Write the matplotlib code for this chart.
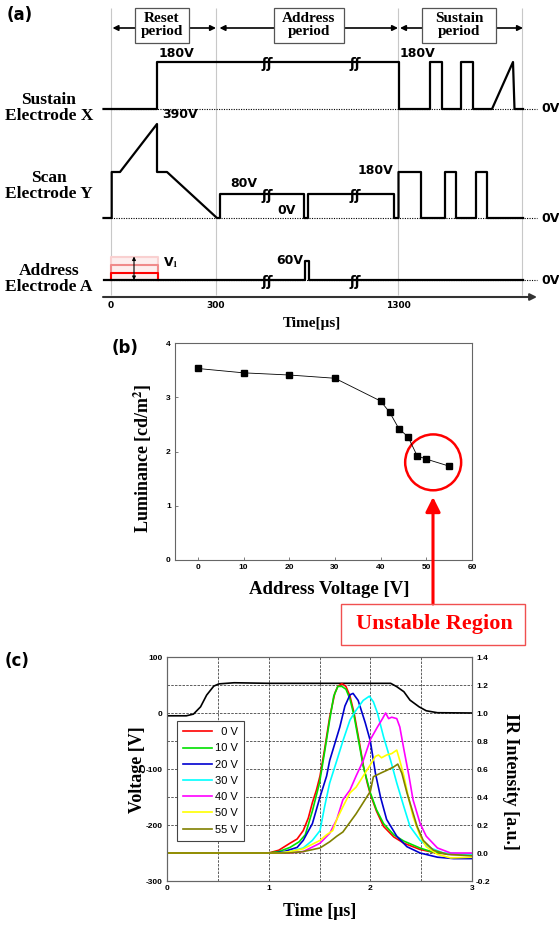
import matplotlib
matplotlib.use('Agg')
import matplotlib.pyplot as plt
from matplotlib.patches import Rectangle, Ellipse
from matplotlib.ticker import MultipleLocator, FormatStrFormatter

plt.rcParams['axes.unicode_minus'] = False
plt.rcParams['mathtext.fontset'] = 'stix'

SERIF = 'Liberation Serif'
SANS = 'DejaVu Sans'
TICKF = ['Liberation Sans', 'DejaVu Sans']

# ---------- (a) drive waveforms (schematic, broken time axis) ----------
period_lines = [0, 105, 287, 411]
time_ticks = [0, 105, 287]
time_labels = ['0', '300', '1300']
break_pos = [156, 244]

x_elec_t = [-7.5, 46, 46, 288, 288, 319, 319, 331, 331, 350, 350, 362, 362, 381, 402, 403.5, 412]
x_elec_v = [0, 0, 47, 47, 0, 0, 47, 47, 0, 0, 47, 47, 0, 0, 47, 0, 0]
y_elec_t = [-7.5, 0.7, 0.7, 9, 46, 46, 56, 106, 109, 109, 193, 193, 197, 197, 283, 283,
            287.5, 287.5, 310, 310, 334, 334, 345, 345, 365, 365, 376, 376, 412]
y_elec_v = [0, 0, 46, 46, 94, 46, 46, 0, 0, 24, 24, 0, 0, 24, 24, 0,
            0, 46, 46, 0, 0, 46, 46, 0, 0, 46, 46, 0, 0]
a_elec_t = [-7.5, 194, 194, 197.5, 197.5, 412]
a_elec_v = [0, 0, 19, 19, 0, 0]
v1_levels = [22.7, 15, 7.3]
v1_colors = ['#f9d0d0', '#f08a8a', '#ff0000']
v1_span = [0, 47]
bases = {'X': 221, 'Y': 112, 'A': 50}

# ---------- (b) luminance vs address voltage ----------
addr_volt = [0, 10, 20, 30, 40, 42, 44, 46, 48, 50, 55]
luminance = [3.53, 3.45, 3.41, 3.35, 2.93, 2.72, 2.42, 2.27, 1.92, 1.86, 1.73]

# ---------- (c) applied voltage and IR waveforms ----------
volt_t = [0, 0.19, 0.26, 0.33, 0.39, 0.46, 0.51, 0.66, 1.0, 1.5, 2.0, 2.2, 2.26, 2.33, 2.39, 2.48, 2.55, 2.66, 3.0]
volt_v = [-5, -5, -2, 11, 32, 48, 52, 54, 53, 53, 53, 53, 47, 38, 23, 11, 4, 0.5, 0]

ir_labels = ['0 V', '10 V', '20 V', '30 V', '40 V', '50 V', '55 V']
ir_colors = ['#ff0000', '#00e000', '#0000d0', '#00ffff', '#ff00ff', '#ffff00', '#808000']
ir_t = [
    [0, 1.0, 1.1, 1.21, 1.28, 1.34, 1.39, 1.43, 1.47, 1.505, 1.55, 1.6, 1.65, 1.68, 1.72, 1.76,
     1.8, 1.84, 1.88, 1.93, 1.97, 2.0, 2.06, 2.13, 2.23, 2.33, 2.49, 2.65, 2.8, 3.0],
    [0, 1.0, 1.1, 1.21, 1.3, 1.36, 1.43, 1.5, 1.55, 1.6, 1.64, 1.68, 1.72, 1.76, 1.8, 1.84,
     1.88, 1.93, 2.0, 2.06, 2.13, 2.23, 2.33, 2.49, 2.6, 2.75, 3.0],
    [0, 1.05, 1.15, 1.28, 1.34, 1.43, 1.505, 1.57, 1.6, 1.65, 1.7, 1.75, 1.8, 1.83, 1.88, 1.95,
     2.0, 2.05, 2.1, 2.16, 2.26, 2.36, 2.49, 2.66, 2.82, 3.0],
    [0, 1.1, 1.21, 1.34, 1.43, 1.505, 1.55, 1.6, 1.67, 1.73, 1.8, 1.86, 1.93, 1.99, 2.03, 2.07,
     2.13, 2.2, 2.26, 2.33, 2.39, 2.49, 2.59, 2.72, 3.0],
    [0, 1.2, 1.34, 1.505, 1.6, 1.67, 1.73, 1.8, 1.86, 1.93, 2.0, 2.07, 2.12, 2.15, 2.18, 2.21,
     2.26, 2.29, 2.33, 2.38, 2.42, 2.49, 2.55, 2.66, 2.79, 3.0],
    [0, 1.1, 1.21, 1.34, 1.505, 1.57, 1.63, 1.67, 1.73, 1.8, 1.86, 1.93, 2.0, 2.05, 2.08, 2.11,
     2.16, 2.21, 2.26, 2.29, 2.33, 2.38, 2.42, 2.49, 2.55, 2.66, 2.79, 3.0],
    [0, 1.2, 1.34, 1.505, 1.6, 1.67, 1.73, 1.8, 1.86, 1.93, 2.0, 2.03, 2.1, 2.16, 2.23, 2.27,
     2.31, 2.36, 2.41, 2.46, 2.52, 2.62, 2.76, 3.0],
]
ir_v = [
    [0, 0, 0.02, 0.07, 0.10, 0.16, 0.25, 0.36, 0.45, 0.55, 0.74, 0.97, 1.14, 1.19, 1.21, 1.19,
     1.12, 1.0, 0.84, 0.63, 0.50, 0.42, 0.30, 0.19, 0.115, 0.07, 0.025, 0.0, -0.01, -0.01],
    [0, 0, 0.01, 0.04, 0.08, 0.13, 0.30, 0.50, 0.72, 0.95, 1.12, 1.19, 1.19, 1.17, 1.10, 0.98,
     0.82, 0.62, 0.43, 0.31, 0.21, 0.13, 0.085, 0.035, 0.01, -0.005, -0.01],
    [0, 0, 0.01, 0.04, 0.09, 0.21, 0.40, 0.55, 0.66, 0.78, 0.90, 1.05, 1.13, 1.14, 1.09, 0.93,
     0.80, 0.57, 0.40, 0.24, 0.12, 0.045, 0.0, -0.03, -0.04, -0.04],
    [0, 0, 0.01, 0.036, 0.09, 0.16, 0.33, 0.50, 0.66, 0.80, 0.95, 1.02, 1.09, 1.12, 1.08, 1.0,
     0.83, 0.66, 0.50, 0.33, 0.19, 0.09, 0.036, 0.0, -0.01],
    [0, 0, 0.01, 0.07, 0.14, 0.24, 0.38, 0.45, 0.55, 0.66, 0.81, 0.90, 0.96, 1.00, 0.96, 0.97,
     0.96, 0.90, 0.74, 0.55, 0.38, 0.21, 0.12, 0.036, 0.0, 0.0],
    [0, 0, 0.01, 0.03, 0.09, 0.13, 0.16, 0.24, 0.33, 0.43, 0.47, 0.55, 0.63, 0.69, 0.70, 0.68,
     0.70, 0.71, 0.735, 0.66, 0.55, 0.38, 0.26, 0.12, 0.045, -0.01, -0.035, -0.03],
    [0, 0, 0.01, 0.036, 0.08, 0.12, 0.15, 0.22, 0.28, 0.36, 0.44, 0.545, 0.57, 0.59, 0.615, 0.635,
     0.57, 0.43, 0.31, 0.19, 0.09, 0.02, -0.01, -0.02],
]

W, H = 559, 925
fig = plt.figure(figsize=(W / 100, H / 100), dpi=100)

# ====================== panel (a) ======================
ax_a = fig.add_axes([0, 1 - 330 / H, 1, 330 / H])
ax_a.set_xlim(-111, W - 111)
ax_a.set_ylim(0, 330)
ax_a.axis('off')

ax_a.vlines(period_lines, 35, 322, color='#c8c8c8', lw=0.8, zorder=0)

for a, b in [(1.5, 105), (108.5, 287), (289, 412)]:
    ax_a.annotate('', xy=(b, 302), xytext=(a, 302),
                  arrowprops=dict(arrowstyle='<|-|>', color='black', lw=1.2,
                                  mutation_scale=8, shrinkA=0, shrinkB=0))
for x0, w, txt in [(24, 54, 'Reset\nperiod'), (163, 70, 'Address\nperiod'), (311, 74, 'Sustain\nperiod')]:
    ax_a.add_patch(Rectangle((x0, 287), w, 35, fc='white', ec='#555555', lw=0.9, zorder=3))
    ax_a.text(x0 + w / 2, 304.5, txt, ha='center', va='center', family=SERIF,
              fontweight='bold', fontsize=11, linespacing=1.0, zorder=4)

# dotted zero lines
for key in bases:
    ax_a.plot([0, 426], [bases[key], bases[key]], color='black', ls=(0, (1, 1.2)), lw=0.8)
    ax_a.text(430, bases[key], '0V', ha='left', va='center', family=SANS,
              fontweight='bold', fontsize=9)

# V1 levels on the address electrode
ax_a.add_patch(Rectangle((v1_span[0], bases['A']), v1_span[1] - v1_span[0], v1_levels[0],
                         fc='#fdeeee', ec='none', zorder=1))
for lev, col in zip(v1_levels, v1_colors):
    ax_a.plot([v1_span[0], v1_span[0], v1_span[1], v1_span[1]],
              [bases['A'], bases['A'] + lev, bases['A'] + lev, bases['A']],
              color=col, lw=1.5, zorder=2)

ax_a.plot(x_elec_t, [bases['X'] + v for v in x_elec_v], color='black', lw=1.6, zorder=5)
ax_a.plot(y_elec_t, [bases['Y'] + v for v in y_elec_v], color='black', lw=1.6, zorder=5)
ax_a.plot(a_elec_t, [bases['A'] + v for v in a_elec_v], color='black', lw=1.6, zorder=5)

for bp in break_pos:
    for yb in [bases['X'] + 47, bases['Y'] + 24, bases['A']]:
        ax_a.text(bp, yb - 2, '\u0283\u0283', ha='center', va='center', family=SANS,
                  fontweight='bold', fontsize=10, zorder=6)

ax_a.annotate('', xy=(23, bases['A'] + 23.5), xytext=(23, bases['A']),
              arrowprops=dict(arrowstyle='<|-|>', color='black', lw=0.8,
                              mutation_scale=5, shrinkA=0, shrinkB=0), zorder=6)

vlab = dict(family=SANS, fontweight='bold', fontsize=9)
ax_a.text(48, 276.5, '180V', ha='left', va='center', **vlab)
ax_a.text(289, 276.5, '180V', ha='left', va='center', **vlab)
ax_a.text(51, 215, '390V', ha='left', va='center', **vlab)
ax_a.text(119, 146.5, '80V', ha='left', va='center', **vlab)
ax_a.text(166, 120, '0V', ha='left', va='center', **vlab)
ax_a.text(282, 160, '180V', ha='right', va='center', **vlab)
ax_a.text(192, 70, '60V', ha='right', va='center', **vlab)
ax_a.text(52, 67, 'V$_\\mathbf{1}$', ha='left', va='center', **vlab)

elab = dict(ha='center', va='center', family=SERIF, fontweight='bold',
            fontsize=12.5, linespacing=0.95)
ax_a.text(-62, 222, 'Sustain\nElectrode X', **elab)
ax_a.text(-62, 144, 'Scan\nElectrode Y', **elab)
ax_a.text(-62, 51, 'Address\nElectrode A', **elab)

ax_a.annotate('', xy=(426, 33), xytext=(-8, 33),
              arrowprops=dict(arrowstyle='-|>', color='#333333', lw=1.5,
                              mutation_scale=10, shrinkA=0, shrinkB=0))
for tp, tl in zip(time_ticks, time_labels):
    ax_a.text(tp, 24, tl, ha='center', va='center', family=SANS, fontweight='bold', fontsize=6.5)
ax_a.text(201, 6, 'Time[\u03bcs]', ha='center', va='center', family=SERIF,
          fontweight='bold', fontsize=11)

fig.text(7 / W, 1 - 15 / H, '(a)', ha='left', va='center', family=SANS,
         fontweight='bold', fontsize=12)

# ====================== panel (b) ======================
ax_b = fig.add_axes([175 / W, 1 - 560 / H, 297 / W, 217 / H])
ax_b.plot(addr_volt, luminance, color='black', lw=0.6, marker='s', ms=5)
ax_b.set_xlim(-5, 60)
ax_b.set_ylim(0, 4)
ax_b.xaxis.set_major_locator(MultipleLocator(10))
ax_b.yaxis.set_major_locator(MultipleLocator(1))
for s in ax_b.spines.values():
    s.set_color('#666666')
    s.set_linewidth(0.8)
ax_b.tick_params(direction='in', length=2, width=0.6, color='#666666', pad=3)
for lab in ax_b.get_xticklabels() + ax_b.get_yticklabels():
    lab.set_family(TICKF)
    lab.set_fontweight('bold')
    lab.set_fontsize(6)
ax_b.set_xlabel('Address Voltage [V]', family=SERIF, fontweight='bold', fontsize=13.5)
ax_b.xaxis.set_label_coords(0.52, -0.138)
ax_b.xaxis.label.set_va('center')
ax_b.set_ylabel('Luminance [cd/m$^\\mathbf{2}$]', family=SERIF, fontweight='bold', fontsize=13)
ax_b.yaxis.set_label_coords(-0.108, 0.47)
ax_b.yaxis.label.set_va('center')

ax_b.add_patch(Ellipse((51.5, 1.80), 12.25, 1.03, fill=False, ec='#ff0000', lw=1.8, clip_on=False))
fig.text(112 / W, 1 - 348 / H, '(b)', ha='left', va='center', family=SANS,
         fontweight='bold', fontsize=12)

ax_b.annotate('', xy=(433, H - 497), xycoords='figure pixels',
              xytext=(433, H - 604), textcoords='figure pixels',
              arrowprops=dict(arrowstyle='-|>', color='#ff0000', lw=2.2,
                              mutation_scale=22, shrinkA=0, shrinkB=0))
fig.add_artist(Rectangle((340.7 / W, 1 - 645 / H), (525 - 340.7) / W, 41 / H,
                         transform=fig.transFigure, fill=False, ec='#f05050', lw=1.0))
fig.text(434 / W, 1 - 624 / H, 'Unstable Region', ha='center', va='center', family=SERIF,
         fontweight='bold', fontsize=16, color='#ff0000')

# ====================== panel (c) ======================
ax_c = fig.add_axes([167 / W, 1 - 881 / H, 305 / W, 224 / H])
ax_c.set_xlim(0, 3)
ax_c.set_ylim(-300, 100)
ax_c.xaxis.set_major_locator(MultipleLocator(1))
ax_c.xaxis.set_minor_locator(MultipleLocator(0.5))
ax_c.yaxis.set_major_locator(MultipleLocator(100))
ax_c.yaxis.set_minor_locator(MultipleLocator(50))
ax_c.grid(which='both', color='#444444', ls=(0, (3, 1.5)), lw=0.6)
ax_c.tick_params(which='both', direction='in', length=0, pad=3)
ax_c.plot(volt_t, volt_v, color='black', lw=1.2, zorder=3)

ax_c2 = ax_c.twinx()
ax_c2.set_ylim(-0.2, 1.4)
ax_c2.yaxis.set_major_locator(MultipleLocator(0.2))
ax_c2.yaxis.set_major_formatter(FormatStrFormatter('%.1f'))
ax_c2.tick_params(direction='in', length=0, pad=3)
handles = []
for tt, vv, col, lab in zip(ir_t, ir_v, ir_colors, ir_labels):
    h, = ax_c2.plot(tt, vv, color=col, lw=1.2, label=lab)
    handles.append(h)

for ax in (ax_c, ax_c2):
    for s in ax.spines.values():
        s.set_color('#666666')
        s.set_linewidth(0.8)
    for lab in ax.get_xticklabels() + ax.get_yticklabels():
        lab.set_family(TICKF)
        lab.set_fontweight('bold')
        lab.set_fontsize(6)

leg_labels = ['\u2007' + ir_labels[0]] + ir_labels[1:]
leg = ax_c2.legend(handles, leg_labels, loc='upper left', bbox_to_anchor=(0.032, 0.714),
                   borderaxespad=0, frameon=True, fancybox=False, framealpha=1,
                   edgecolor='#444444', prop=dict(family=TICKF, size=8),
                   handlelength=2.6, handletextpad=0.3, labelspacing=0.56, borderpad=0.55)
leg.get_frame().set_linewidth(0.8)

ax_c.set_xlabel('Time [\u03bcs]', family=SERIF, fontweight='bold', fontsize=13)
ax_c.xaxis.set_label_coords(0.50, -0.134)
ax_c.xaxis.label.set_va('center')
ax_c.set_ylabel('Voltage [V]', family=SERIF, fontweight='bold', fontsize=13)
ax_c.yaxis.set_label_coords(-0.098, 0.496)
ax_c.yaxis.label.set_va('center')
ax_c2.set_ylabel('IR Intensity [a.u.]', family=SERIF, fontweight='bold', fontsize=13, rotation=270)
ax_c2.yaxis.set_label_coords(1.126, 0.443)
ax_c2.yaxis.label.set_va('center')

fig.text(5 / W, 1 - 661 / H, '(c)', ha='left', va='center', family=SANS,
         fontweight='bold', fontsize=12)

fig.savefig('out.png', dpi=100)
